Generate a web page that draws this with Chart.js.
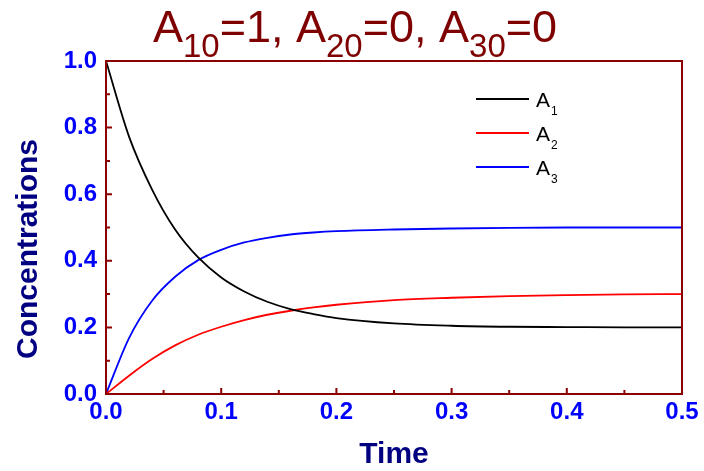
<!DOCTYPE html>
<html>
<head>
<meta charset="utf-8">
<script src="https://cdn.jsdelivr.net/npm/chart.js@4"></script>
<style>
    html, body { margin: 0; padding: 0; background: #fff; }
    canvas { display: block; }
</style>
</head>
<body>
<canvas id="c1" width="704" height="471"></canvas>
<script>
// =========================
// DADOS
// =========================
const tempo = [0, 0.02, 0.04, 0.06, 0.08, 0.1, 0.12, 0.14, 0.16, 0.18, 0.2, 0.25, 0.3, 0.35, 0.4, 0.45, 0.5];
const serieA1 = [1.0, 0.773, 0.614, 0.494, 0.410, 0.350, 0.308, 0.277, 0.255, 0.240, 0.228, 0.212, 0.205, 0.202, 0.201, 0.200, 0.200];
const serieA2 = [0, 0.055, 0.105, 0.146, 0.178, 0.202, 0.222, 0.238, 0.250, 0.260, 0.268, 0.282, 0.289, 0.294, 0.297, 0.299, 0.300];
const serieA3 = [0, 0.168, 0.280, 0.352, 0.402, 0.433, 0.455, 0.469, 0.479, 0.485, 0.489, 0.494, 0.497, 0.499, 0.500, 0.500, 0.500];

const nomes = [["A", "1"], ["A", "2"], ["A", "3"]];
const cores = ["#000000", "#ff0000", "#0000ff"];

const tituloPartes = [["A", ""], ["10", "sub"], ["=1, ", ""], ["A", ""], ["20", "sub"], ["=0, ", ""], ["A", ""], ["30", "sub"], ["=0", ""]];
const tituloX = "Time";
const tituloY = "Concentrations";

const xMajor = [0, 0.1, 0.2, 0.3, 0.4, 0.5];
const xMinor = [0.05, 0.15, 0.25, 0.35, 0.45];
const yMajor = [0, 0.2, 0.4, 0.6, 0.8, 1.0];
const yMinor = [0.1, 0.3, 0.5, 0.7, 0.9];

// =========================
// ESTILO
// =========================
const FONTE = "'Liberation Sans', Arial, sans-serif";
const COR_EIXO = "#8b0000";
const COR_TICK = "#0000ff";
const COR_TITULO_EIXO = "#000080";

function pontos(valores){
    return tempo.map((t, i) => ({ x: t, y: valores[i] }));
}

// texto com subscritos, centrado em cx
function textoSub(ctx, partes, cx, base, tam, tamSub, desce){
    let larg = 0;
    partes.forEach(p => {
        ctx.font = (p[1] === "sub" ? tamSub : tam) + "px " + FONTE;
        larg += ctx.measureText(p[0]).width;
    });
    let x = cx - larg / 2;
    partes.forEach(p => {
        let sub = p[1] === "sub";
        ctx.font = (sub ? tamSub : tam) + "px " + FONTE;
        ctx.fillText(p[0], x, sub ? base + desce : base);
        x += ctx.measureText(p[0]).width;
    });
}

// =========================
// PLUGIN MOLDURA / TEXTOS
// =========================
const moldura = {
    id: "moldura",
    afterDraw(chart){
        const { ctx, chartArea: a, scales: { x, y } } = chart;
        ctx.save();

        // moldura
        ctx.strokeStyle = COR_EIXO;
        ctx.lineWidth = 2;
        ctx.strokeRect(a.left, a.top, a.right - a.left, a.bottom - a.top);

        // ticks para dentro
        ctx.beginPath();
        xMajor.forEach(v => { let p = x.getPixelForValue(v); ctx.moveTo(p, a.bottom); ctx.lineTo(p, a.bottom - 6); });
        xMinor.forEach(v => { let p = x.getPixelForValue(v); ctx.moveTo(p, a.bottom); ctx.lineTo(p, a.bottom - 4); });
        yMajor.forEach(v => { let p = y.getPixelForValue(v); ctx.moveTo(a.left, p); ctx.lineTo(a.left + 6, p); });
        yMinor.forEach(v => { let p = y.getPixelForValue(v); ctx.moveTo(a.left, p); ctx.lineTo(a.left + 4, p); });
        ctx.stroke();

        // titulo
        ctx.fillStyle = "#7f0000";
        ctx.textBaseline = "alphabetic";
        ctx.textAlign = "left";
        textoSub(ctx, tituloPartes, 355, 42, 45, 33, 15);

        // legenda
        nomes.forEach((n, i) => {
            let ly = 99 + i * 34;
            ctx.strokeStyle = cores[i];
            ctx.lineWidth = 2;
            ctx.beginPath();
            ctx.moveTo(476, ly);
            ctx.lineTo(529, ly);
            ctx.stroke();
            ctx.fillStyle = "#000";
            ctx.font = "21px " + FONTE;
            ctx.fillText(n[0], 536, ly + 8);
            let w = ctx.measureText(n[0]).width;
            ctx.font = "12px " + FONTE;
            ctx.fillText(n[1], 536 + w + 1, ly + 16);
        });

        // titulos dos eixos
        ctx.fillStyle = COR_TITULO_EIXO;
        ctx.font = "bold 30px " + FONTE;
        ctx.textAlign = "center";
        ctx.textBaseline = "middle";
        ctx.fillText(tituloX, 394, 455);

        ctx.save();
        ctx.translate(29, 249);
        ctx.rotate(-Math.PI / 2);
        ctx.fillText(tituloY, 0, 0);
        ctx.restore();

        ctx.restore();
    }
};

// =========================
// GRÁFICO
// =========================
const ctx1 = document.getElementById("c1").getContext("2d");

let chart1 = new Chart(ctx1, {
    type: "line",
    data: {
        datasets: [
            { label: "A1", data: pontos(serieA1), borderColor: cores[0] },
            { label: "A2", data: pontos(serieA2), borderColor: cores[1] },
            { label: "A3", data: pontos(serieA3), borderColor: cores[2] }
        ]
    },
    options: {
        responsive: false,
        animation: false,
        events: [],
        layout: { padding: { top: 61, right: 22, left: 0, bottom: 0 } },
        elements: {
            line: { borderWidth: 1.8, cubicInterpolationMode: "monotone", fill: false },
            point: { radius: 0 }
        },
        plugins: {
            legend: { display: false },
            tooltip: { enabled: false },
            title: { display: false }
        },
        scales: {
            x: {
                type: "linear",
                min: 0,
                max: 0.5,
                afterFit: s => { s.height = 77; },
                afterBuildTicks: s => { s.ticks = xMajor.map(v => ({ value: v })); },
                grid: { display: false, drawTicks: false },
                border: { display: false },
                ticks: {
                    color: COR_TICK,
                    padding: 4,
                    maxRotation: 0,
                    font: { family: FONTE, size: 24, weight: "bold" },
                    callback: v => v.toFixed(1)
                }
            },
            y: {
                min: 0,
                max: 1,
                afterFit: s => { s.width = 106; },
                afterBuildTicks: s => { s.ticks = yMajor.map(v => ({ value: v })); },
                grid: { display: false, drawTicks: false },
                border: { display: false },
                ticks: {
                    color: COR_TICK,
                    padding: 9,
                    font: { family: FONTE, size: 24, weight: "bold" },
                    callback: v => v.toFixed(1)
                }
            }
        }
    },
    plugins: [moldura]
});
</script>
</body>
</html>
